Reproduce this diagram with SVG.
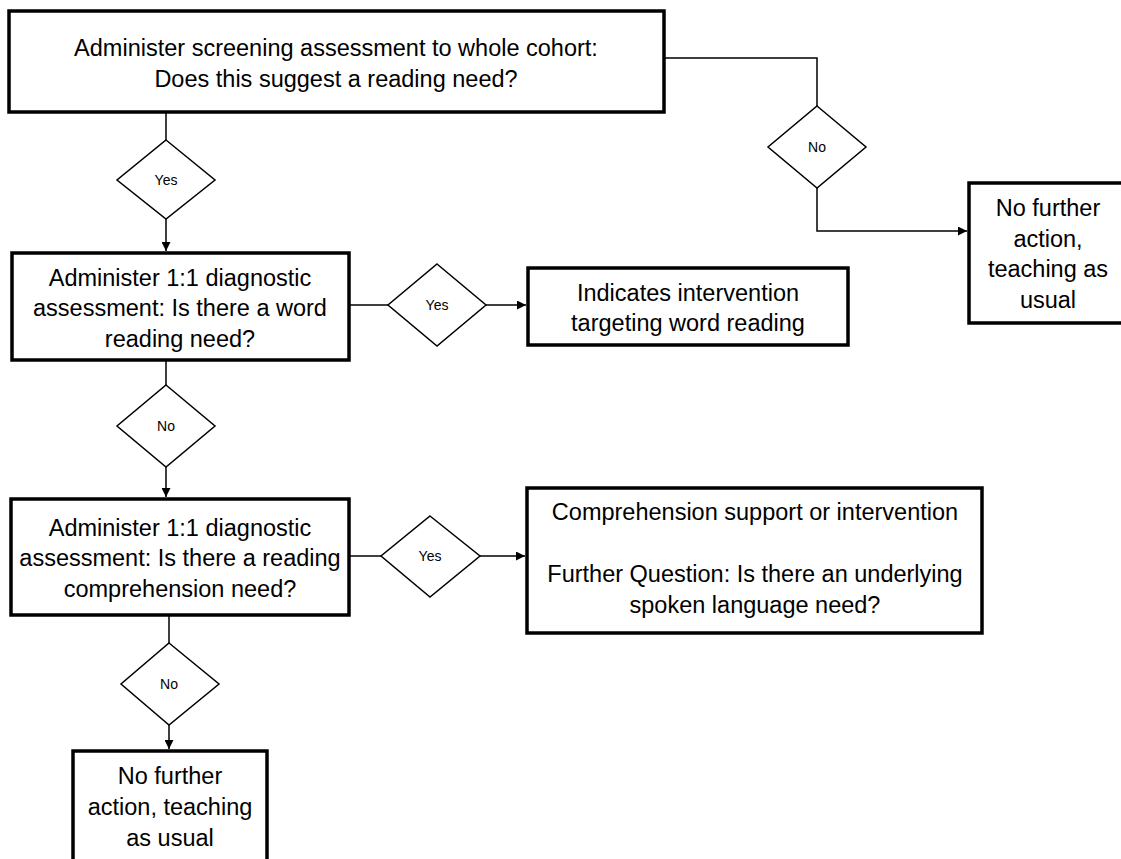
<svg xmlns="http://www.w3.org/2000/svg" width="1121" height="859" viewBox="0 0 1121 859">
<defs>
<marker id="arr" viewBox="0 0 10 10" refX="10" refY="5" markerWidth="9" markerHeight="9" markerUnits="userSpaceOnUse" orient="auto">
<path d="M0,0 L10,5 L0,10 z" fill="#000"/>
</marker>
<style>
.box{fill:#fff;stroke:#000;stroke-width:3.5}
.dia{fill:#fff;stroke:#000;stroke-width:1.5}
.con{fill:none;stroke:#000;stroke-width:1.5}
.t{font-family:"Liberation Sans",Arial,sans-serif;font-size:23.5px;fill:#000;text-anchor:middle}
.d{font-family:"Liberation Sans",Arial,sans-serif;font-size:14px;fill:#000;text-anchor:middle}
</style>
</defs>
<rect width="1121" height="859" fill="#fff"/>
<g id="connectors">
<path class="con" d="M166,112 V140"/>
<path class="con" d="M166,219 V251" marker-end="url(#arr)"/>
<path class="con" d="M664,58 H817 V106"/>
<path class="con" d="M817,188 V231 H967" marker-end="url(#arr)"/>
<path class="con" d="M349,305 H388"/>
<path class="con" d="M486,305 H526" marker-end="url(#arr)"/>
<path class="con" d="M166,360 V385"/>
<path class="con" d="M166,467 V497" marker-end="url(#arr)"/>
<path class="con" d="M349,556 H381"/>
<path class="con" d="M480,556 H525" marker-end="url(#arr)"/>
<path class="con" d="M169,615 V643"/>
<path class="con" d="M169,725 V749" marker-end="url(#arr)"/>
</g>
<g id="box1">
<rect class="box" x="9" y="11" width="655" height="101"/>
<text class="t" x="336" y="56">Administer screening assessment to whole cohort:</text>
<text class="t" x="336" y="87">Does this suggest a reading need?</text>
</g>
<g id="dYes1">
<polygon class="dia" points="166,140 215,180 166,219 117,180"/>
<text class="d" x="166" y="185">Yes</text>
</g>
<g id="dNo1">
<polygon class="dia" points="817,106 866,147 817,188 768,147"/>
<text class="d" x="817" y="152">No</text>
</g>
<g id="boxNoAction1">
<rect class="box" x="969" y="183" width="160" height="140"/>
<text class="t" x="1048" y="216">No further</text>
<text class="t" x="1048" y="247">action,</text>
<text class="t" x="1048" y="277">teaching as</text>
<text class="t" x="1048" y="308">usual</text>
</g>
<g id="box2">
<rect class="box" x="12" y="253" width="337" height="107"/>
<text class="t" x="180" y="286">Administer 1:1 diagnostic</text>
<text class="t" x="180" y="316">assessment: Is there a word</text>
<text class="t" x="180" y="347">reading need?</text>
</g>
<g id="dYes2">
<polygon class="dia" points="437,264 486,305 437,346 388,305"/>
<text class="d" x="437" y="310">Yes</text>
</g>
<g id="box3">
<rect class="box" x="528" y="268" width="320" height="77"/>
<text class="t" x="688" y="301">Indicates intervention</text>
<text class="t" x="688" y="331">targeting word reading</text>
</g>
<g id="dNo2">
<polygon class="dia" points="166,385 215,426 166,467 117,426"/>
<text class="d" x="166" y="431">No</text>
</g>
<g id="box4">
<rect class="box" x="11" y="499" width="338" height="116"/>
<text class="t" x="180" y="536">Administer 1:1 diagnostic</text>
<text class="t" x="180" y="566">assessment: Is there a reading</text>
<text class="t" x="180" y="597">comprehension need?</text>
</g>
<g id="dYes3">
<polygon class="dia" points="430,516 480,556 430,597 381,556"/>
<text class="d" x="430" y="561">Yes</text>
</g>
<g id="box5">
<rect class="box" x="527" y="488" width="455" height="145"/>
<text class="t" x="755" y="520">Comprehension support or intervention</text>
<text class="t" x="755" y="582">Further Question: Is there an underlying</text>
<text class="t" x="755" y="613">spoken language need?</text>
</g>
<g id="dNo3">
<polygon class="dia" points="169,643 219,684 169,725 121,684"/>
<text class="d" x="169" y="689">No</text>
</g>
<g id="boxNoAction2">
<rect class="box" x="73" y="751" width="194" height="120"/>
<text class="t" x="170" y="784">No further</text>
<text class="t" x="170" y="815">action, teaching</text>
<text class="t" x="170" y="846">as usual</text>
</g>
</svg>
